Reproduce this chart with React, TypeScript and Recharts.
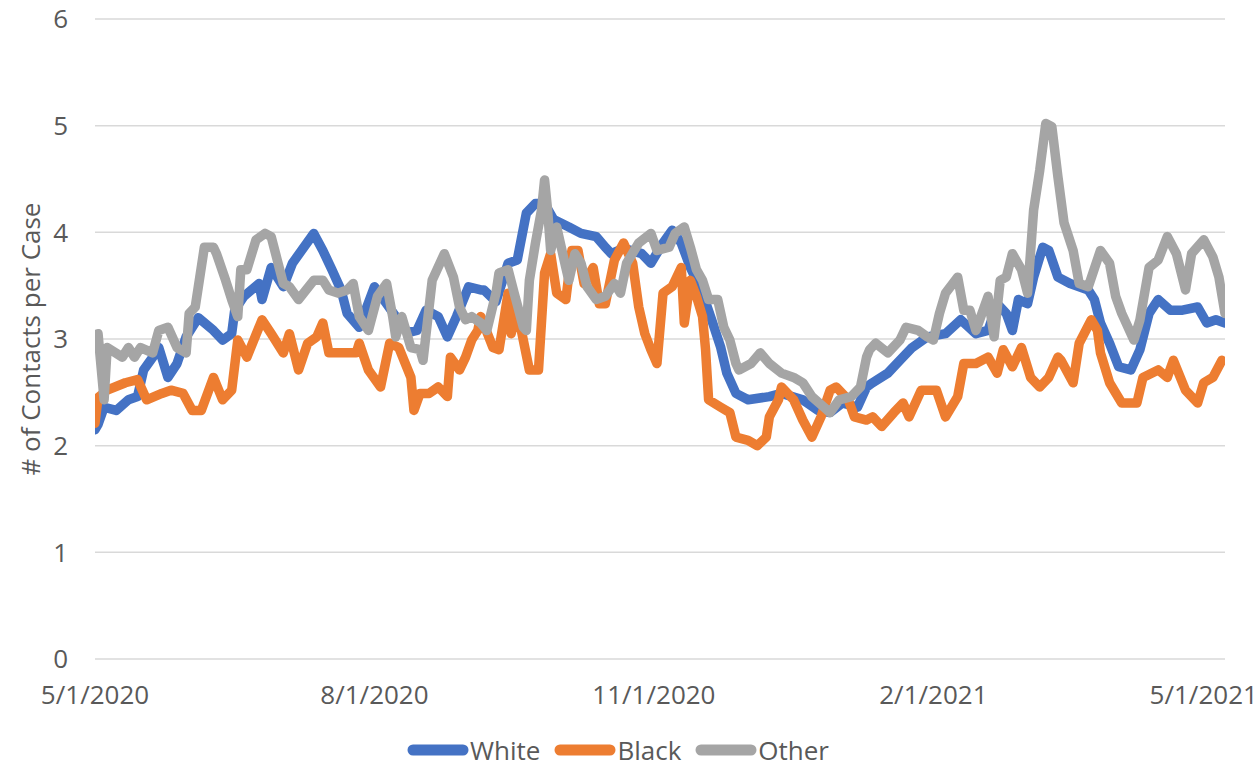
import React from 'react';
import { LineChart, Line, XAxis, YAxis, CartesianGrid, Legend } from 'recharts';

// Day offsets from 5/1/2020 paired with values (# of contacts per case)
const whitePoints: [number, number][] = [
  [0, 2.15], [1, 2.2], [3, 2.36], [7, 2.33], [11, 2.43], [14, 2.46], [16, 2.71], [19, 2.83], [21, 2.92], [24, 2.64],
  [27, 2.77], [30, 3.02], [34, 3.2], [39, 3.08], [42, 2.99], [45, 3.05], [46, 3.27], [49, 3.4], [54, 3.52], [55, 3.37],
  [58, 3.67], [62, 3.49], [65, 3.71], [72, 3.99], [75, 3.83], [78, 3.65], [81, 3.46], [83, 3.24], [87, 3.11], [92, 3.49],
  [95, 3.37], [99, 3.21], [103, 3.06], [106, 3.08], [109, 3.27], [113, 3.21], [116, 3.02], [119, 3.21], [123, 3.49], [127, 3.46],
  [128, 3.46], [132, 3.35], [136, 3.71], [139, 3.74], [142, 4.18], [145, 4.27], [148, 4.27], [151, 4.12], [156, 4.05], [160, 3.99],
  [165, 3.96], [168, 3.86], [170, 3.8], [174, 3.85], [180, 3.8], [183, 3.71], [187, 3.9], [190, 4.02], [193, 3.9], [196, 3.67],
  [200, 3.43], [203, 3.18], [206, 2.92], [208, 2.68], [211, 2.49], [215, 2.43], [222, 2.46], [226, 2.49], [233, 2.43], [238, 2.33],
  [242, 2.31], [246, 2.4], [251, 2.36], [254, 2.55], [256, 2.59], [261, 2.68], [265, 2.8], [269, 2.92], [274, 3.02], [280, 3.05],
  [285, 3.18], [290, 3.05], [294, 3.08], [297, 3.33], [300, 3.24], [302, 3.08], [304, 3.37], [307, 3.33], [309, 3.58], [312, 3.86],
  [314, 3.83], [317, 3.58], [321, 3.52], [327, 3.46], [329, 3.37], [331, 3.15], [334, 2.96], [337, 2.74], [341, 2.71], [344, 2.9],
  [347, 3.24], [350, 3.37], [354, 3.27], [358, 3.27], [363, 3.3], [366, 3.15], [369, 3.18], [372, 3.15],
];

const blackPoints: [number, number][] = [
  [0, 2.21], [1, 2.45], [4, 2.52], [10, 2.59], [14, 2.62], [17, 2.43], [22, 2.49], [25, 2.52], [29, 2.49], [32, 2.33],
  [35, 2.33], [39, 2.64], [42, 2.43], [45, 2.52], [47, 2.99], [50, 2.83], [55, 3.18], [58, 3.05], [62, 2.87], [64, 3.05],
  [67, 2.71], [70, 2.96], [73, 3.02], [75, 3.15], [77, 2.87], [82, 2.87], [86, 2.87], [87, 2.96], [90, 2.71], [94, 2.55],
  [97, 2.96], [100, 2.92], [104, 2.64], [105, 2.33], [107, 2.49], [110, 2.49], [113, 2.55], [116, 2.46], [117, 2.83], [120, 2.71],
  [122, 2.83], [124, 2.99], [126, 3.08], [127, 3.21], [131, 2.92], [133, 2.9], [136, 3.43], [137, 3.05], [139, 3.27], [143, 2.71],
  [146, 2.71], [148, 3.62], [150, 3.8], [152, 3.43], [155, 3.37], [157, 3.83], [159, 3.83], [161, 3.52], [164, 3.67], [166, 3.33],
  [168, 3.33], [171, 3.74], [174, 3.9], [177, 3.71], [179, 3.3], [181, 3.05], [183, 2.9], [185, 2.77], [187, 3.43], [190, 3.49],
  [193, 3.67], [194, 3.15], [196, 3.55], [198, 3.4], [200, 3.21], [201, 2.9], [202, 2.43], [206, 2.36], [209, 2.31], [211, 2.08],
  [215, 2.05], [218, 2.0], [221, 2.08], [222, 2.27], [225, 2.43], [226, 2.55], [230, 2.43], [233, 2.24], [236, 2.08], [239, 2.27],
  [242, 2.52], [244, 2.55], [248, 2.43], [250, 2.27], [254, 2.24], [256, 2.27], [259, 2.18], [263, 2.31], [266, 2.4], [268, 2.27],
  [272, 2.52], [277, 2.52], [280, 2.27], [284, 2.46], [286, 2.77], [290, 2.77], [294, 2.83], [297, 2.68], [299, 2.9], [302, 2.74],
  [305, 2.92], [308, 2.64], [311, 2.55], [314, 2.64], [317, 2.83], [318, 2.8], [322, 2.59], [324, 2.96], [328, 3.18], [330, 3.08],
  [331, 2.87], [334, 2.59], [338, 2.4], [343, 2.4], [345, 2.64], [350, 2.71], [353, 2.64], [355, 2.8], [359, 2.52], [363, 2.4],
  [365, 2.59], [368, 2.64], [371, 2.8],
];

const otherPoints: [number, number][] = [
  [0, 2.95], [1, 3.05], [3, 2.43], [4, 2.92], [9, 2.83], [11, 2.92], [13, 2.83], [15, 2.92], [19, 2.87], [21, 3.08],
  [24, 3.11], [27, 2.92], [30, 2.87], [31, 3.24], [33, 3.3], [36, 3.86], [39, 3.86], [40, 3.8], [43, 3.55], [45, 3.37],
  [47, 3.21], [48, 3.65], [50, 3.65], [53, 3.93], [56, 3.99], [58, 3.96], [60, 3.74], [62, 3.52], [64, 3.49], [67, 3.37],
  [72, 3.55], [75, 3.55], [77, 3.46], [80, 3.43], [83, 3.46], [85, 3.52], [87, 3.21], [90, 3.08], [93, 3.4], [96, 3.52],
  [98, 3.21], [99, 3.02], [101, 3.21], [104, 2.92], [107, 2.9], [108, 2.8], [111, 3.55], [115, 3.8], [118, 3.58], [120, 3.3],
  [122, 3.18], [124, 3.21], [127, 3.15], [129, 3.08], [132, 3.43], [133, 3.62], [136, 3.65], [138, 3.43], [141, 3.11], [142, 3.08],
  [143, 3.55], [145, 3.9], [147, 4.21], [148, 4.49], [149, 4.21], [150, 3.83], [152, 4.05], [155, 3.67], [156, 3.55], [158, 3.8],
  [160, 3.71], [162, 3.49], [165, 3.37], [168, 3.4], [171, 3.52], [173, 3.43], [175, 3.71], [179, 3.9], [183, 3.99], [185, 3.83],
  [189, 3.86], [191, 3.99], [194, 4.05], [196, 3.86], [198, 3.65], [200, 3.55], [202, 3.37], [205, 3.37], [207, 3.11], [209, 2.99],
  [211, 2.77], [212, 2.71], [216, 2.77], [219, 2.87], [222, 2.77], [226, 2.68], [230, 2.64], [233, 2.59], [236, 2.46], [240, 2.36],
  [242, 2.31], [245, 2.43], [249, 2.46], [252, 2.55], [254, 2.83], [255, 2.9], [257, 2.96], [261, 2.87], [265, 2.99], [267, 3.11],
  [271, 3.08], [274, 3.02], [276, 2.99], [278, 3.24], [280, 3.43], [284, 3.58], [286, 3.27], [288, 3.27], [290, 3.08], [294, 3.4],
  [296, 3.02], [298, 3.55], [300, 3.58], [302, 3.8], [305, 3.65], [307, 3.43], [309, 4.21], [311, 4.58], [313, 5.02], [315, 4.99],
  [317, 4.52], [319, 4.09], [322, 3.83], [324, 3.52], [327, 3.49], [331, 3.83], [334, 3.71], [336, 3.4], [338, 3.24], [342, 2.99],
  [344, 3.18], [347, 3.67], [350, 3.74], [353, 3.96], [356, 3.8], [359, 3.46], [361, 3.8], [365, 3.93], [368, 3.77], [370, 3.58],
  [372, 3.24],
];

const seriesNames = ['White', 'Black', 'Other'];
const tickDays = [0, 92, 184, 276, 365];
const tickLabels = ['5/1/2020', '8/1/2020', '11/1/2020', '2/1/2021', '5/1/2021'];
const yTicks = [0, 1, 2, 3, 4, 5, 6];

const FONT = '"Open Sans", "Noto Sans", sans-serif';
const TEXT = '#595959';
const LINE_W = 9.5;

const toData = (pts: [number, number][]) => pts.map(([day, v]) => ({ day, v }));

const YTitle = (props: any) => {
  const vb = props.viewBox || {};
  const cy = vb.y !== undefined && vb.height !== undefined ? vb.y + vb.height / 2 : 339;
  const cx = 30;
  return (
    <text
      x={cx}
      y={cy}
      transform={`rotate(-90 ${cx} ${cy})`}
      textAnchor="middle"
      dominantBaseline="central"
      fill={TEXT}
      fontSize={26}
      fontFamily={FONT}
    >
      # of Contacts per Case
    </text>
  );
};

const renderLegend = (props: any) => {
  const payload = [...(props.payload || [])].sort(
    (a: any, b: any) => seriesNames.indexOf(a.value) - seriesNames.indexOf(b.value)
  );
  return (
    <div
      style={{
        display: 'flex',
        justifyContent: 'center',
        alignItems: 'center',
        gap: 14,
        height: 34,
        fontFamily: FONT,
        fontSize: 26,
        color: TEXT,
        lineHeight: '34px',
      }}
    >
      {payload.map((entry: any) => (
        <div key={entry.value} style={{ display: 'flex', alignItems: 'center' }}>
          <svg width={62} height={14} style={{ display: 'block' }}>
            <line x1={6} y1={7} x2={56} y2={7} stroke={entry.color} strokeWidth={11} strokeLinecap="round" />
          </svg>
          <span style={{ marginLeft: 1 }}>{entry.value}</span>
        </div>
      ))}
    </div>
  );
};

export default function App() {
  const tickStyle = { fill: TEXT, fontSize: 26, fontFamily: FONT };
  return (
    <div style={{ position: 'absolute', left: 0, top: 0, width: 1258, height: 767, background: '#fff' }}>
      <LineChart width={1258} height={767} margin={{ top: 19, right: 33, left: 0, bottom: 0 }}>
        <CartesianGrid horizontal vertical={false} stroke="#D9D9D9" strokeWidth={1.5} />
        <XAxis
          type="number"
          dataKey="day"
          domain={[0, 372]}
          allowDataOverflow
          ticks={tickDays}
          interval={0}
          tickFormatter={(d: number) => tickLabels[tickDays.indexOf(d)] ?? ''}
          axisLine={false}
          tickLine={false}
          tickSize={0}
          tickMargin={27}
          height={74}
          tick={tickStyle}
        />
        <YAxis
          type="number"
          domain={[0, 6]}
          ticks={yTicks}
          interval={0}
          axisLine={false}
          tickLine={false}
          tickSize={0}
          tickMargin={27}
          width={95}
          tick={tickStyle}
          label={<YTitle />}
        />
        <Legend
          verticalAlign="bottom"
          content={renderLegend}
          wrapperStyle={{ left: 0, width: 1236, bottom: 0 }}
        />
        <Line
          data={toData(whitePoints)}
          dataKey="v"
          name="White"
          type="linear"
          stroke="#4472C4"
          strokeWidth={LINE_W}
          strokeLinejoin="round"
          strokeLinecap="round"
          dot={false}
          activeDot={false}
          isAnimationActive={false}
        />
        <Line
          data={toData(blackPoints)}
          dataKey="v"
          name="Black"
          type="linear"
          stroke="#ED7D31"
          strokeWidth={LINE_W}
          strokeLinejoin="round"
          strokeLinecap="round"
          dot={false}
          activeDot={false}
          isAnimationActive={false}
        />
        <Line
          data={toData(otherPoints)}
          dataKey="v"
          name="Other"
          type="linear"
          stroke="#A5A5A5"
          strokeWidth={LINE_W}
          strokeLinejoin="round"
          strokeLinecap="round"
          dot={false}
          activeDot={false}
          isAnimationActive={false}
        />
      </LineChart>
    </div>
  );
}
